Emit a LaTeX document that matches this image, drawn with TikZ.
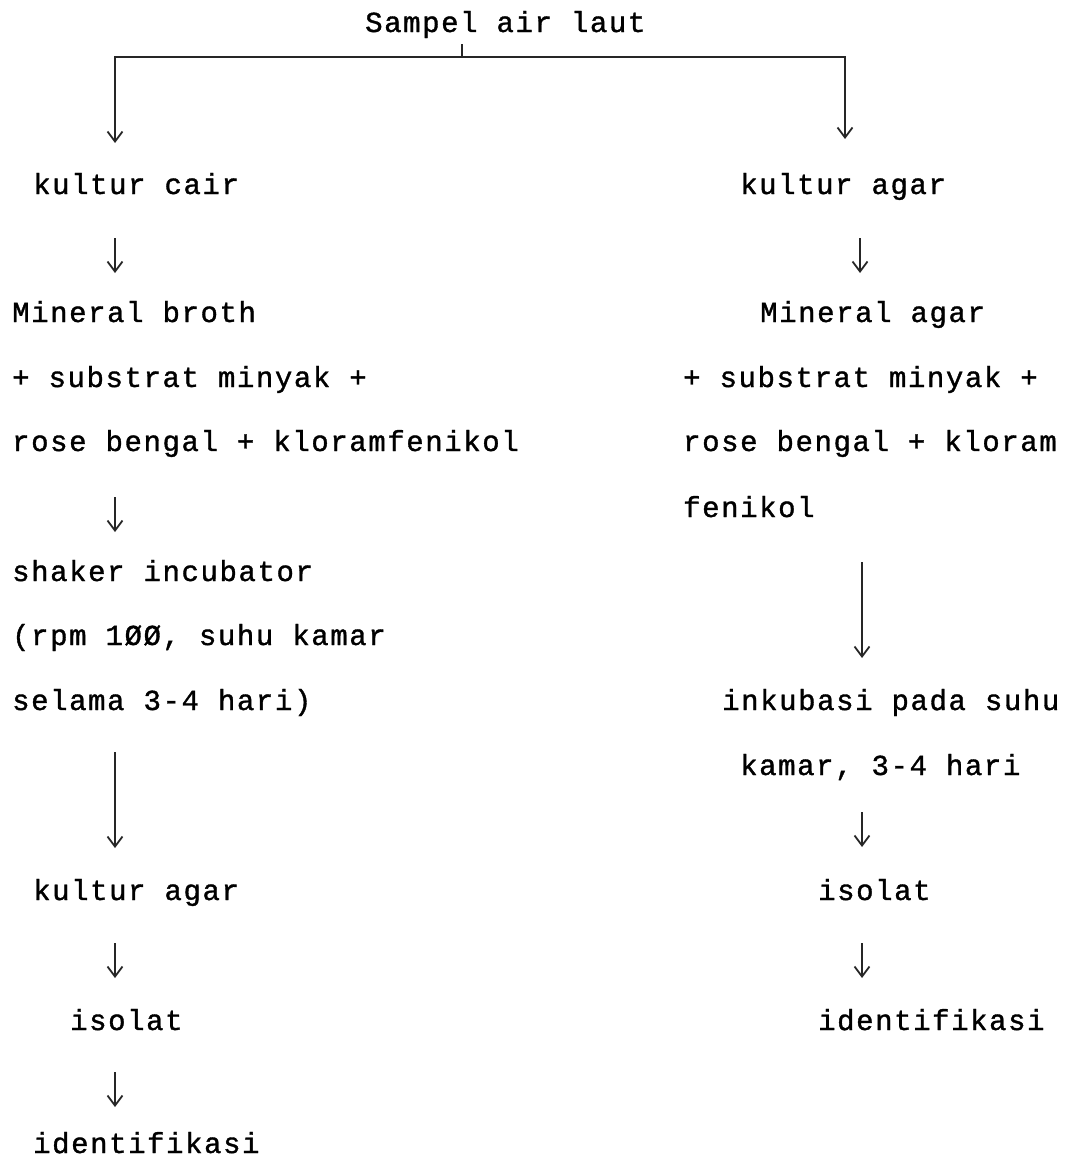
\documentclass[tikz,border=0pt]{standalone}
\usepackage{fontspec}
\setmonofont{Liberation Mono}[LetterSpace=5.5,FakeBold=1.2]
\usetikzlibrary{arrows.meta}
\begin{document}
\begin{tikzpicture}[x=1pt,y=-1pt,
  txt/.style={font=\ttfamily\fontsize{29}{29}\selectfont, inner sep=0pt, anchor=base west},
  ln/.style={line width=1.8pt, black!85},
  arr/.style={ln, -{Straight Barb[length=10pt,width=15pt,line width=1.8pt]}}]
\useasboundingbox (0,0) rectangle (1079,1159);
% texts
\node[txt] (top) at (365,32) {Sampel air laut};
\node[txt] (kc) at (33,194) {kultur cair};
\node[txt] (mb) at (12,322) {Mineral broth};
\node[txt] (sm1) at (12,387) {+ substrat minyak +};
\node[txt] (rb1) at (12,451) {rose bengal + kloramfenikol};
\node[txt] (si) at (12,581) {shaker incubator};
\node[txt] (rpm) at (12,645) {(rpm 1ØØ, suhu kamar};
\node[txt] (sel) at (12,710) {selama 3-4 hari)};
\node[txt] (ka1) at (33,900) {kultur agar};
\node[txt] (is1) at (70,1030) {isolat};
\node[txt] (id1) at (33,1153) {identifikasi};
\node[txt] (ka2) at (740,194) {kultur agar};
\node[txt] (ma) at (760,322) {Mineral agar};
\node[txt] (sm2) at (683,387) {+ substrat minyak +};
\node[txt] (rb2) at (683,451) {rose bengal + kloram};
\node[txt] (fe) at (683,517) {fenikol};
\node[txt] (ink) at (722,710) {inkubasi pada suhu};
\node[txt] (kam) at (740,775) {kamar, 3-4 hari};
\node[txt] (is2) at (818,900) {isolat};
\node[txt] (id2) at (818,1030) {identifikasi};
% branch
\coordinate (t0) at (462,44);
\coordinate (j) at (462,57);
\coordinate (jl) at (115,57);
\coordinate (jr) at (845,57);
\coordinate (el) at (115,143);
\coordinate (er) at (845,139);
\draw[ln, line width=1.4pt] (t0) -- (j);
\draw[arr] (j) -- (jl) -- (el);
\draw[arr] (j) -- (jr) -- (er);
% left column arrows
\coordinate (a1s) at (115,238); \coordinate (a1e) at (115,273);
\coordinate (a2s) at (115,497); \coordinate (a2e) at (115,532);
\coordinate (a3s) at (115,752); \coordinate (a3e) at (115,848);
\coordinate (a4s) at (115,943); \coordinate (a4e) at (115,978);
\coordinate (a5s) at (115,1072); \coordinate (a5e) at (115,1107);
\draw[arr] (a1s) -- (a1e);
\draw[arr] (a2s) -- (a2e);
\draw[arr] (a3s) -- (a3e);
\draw[arr] (a4s) -- (a4e);
\draw[arr] (a5s) -- (a5e);
% right column arrows
\coordinate (b1s) at (860,238); \coordinate (b1e) at (860,273);
\coordinate (b2s) at (862,562); \coordinate (b2e) at (862,658);
\coordinate (b3s) at (862,812); \coordinate (b3e) at (862,847);
\coordinate (b4s) at (862,943); \coordinate (b4e) at (862,978);
\draw[arr] (b1s) -- (b1e);
\draw[arr] (b2s) -- (b2e);
\draw[arr] (b3s) -- (b3e);
\draw[arr] (b4s) -- (b4e);
\end{tikzpicture}
\end{document}
